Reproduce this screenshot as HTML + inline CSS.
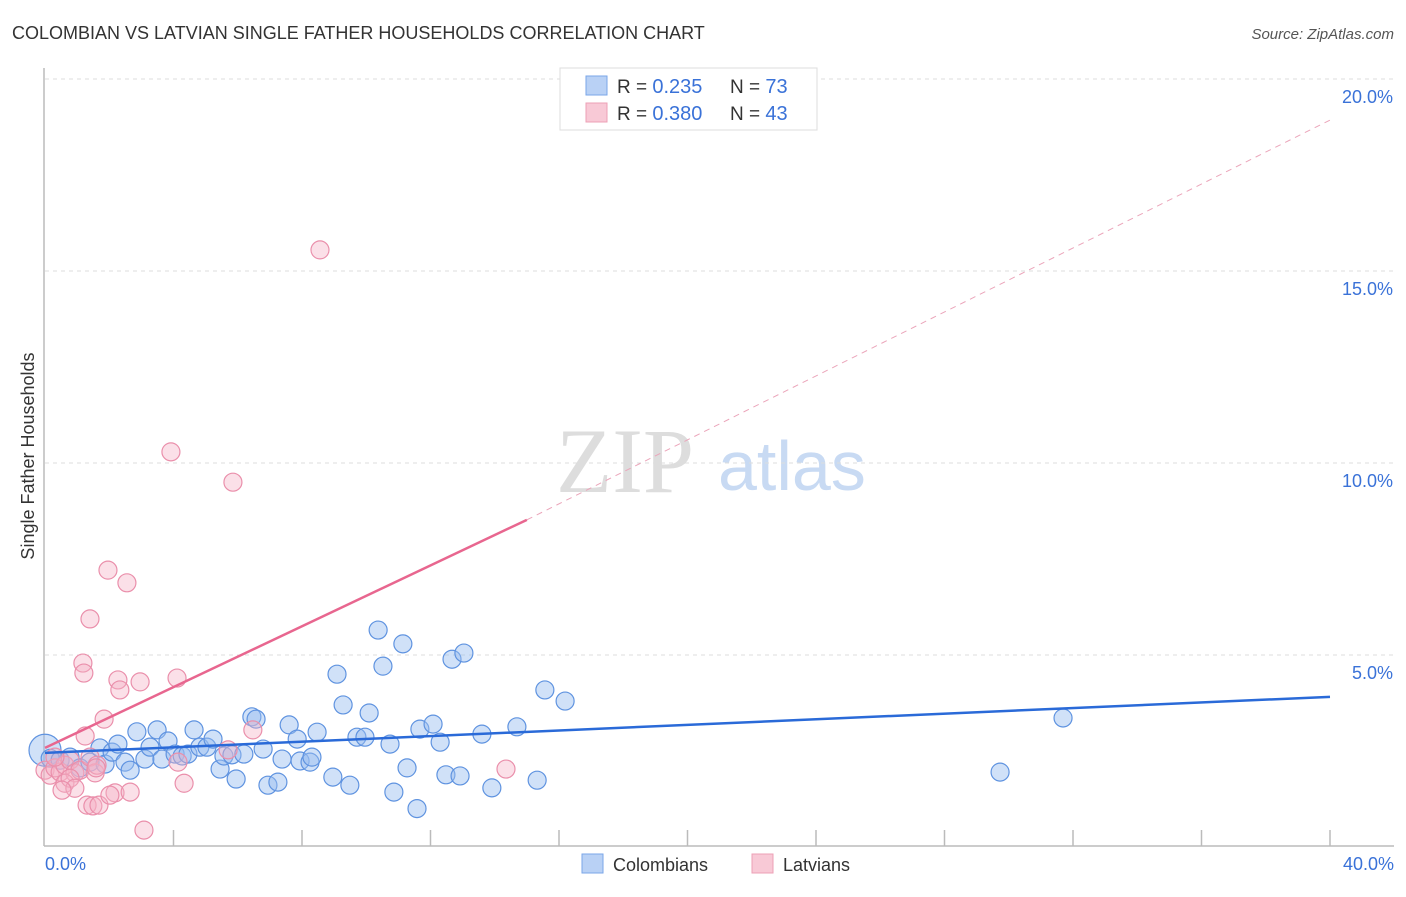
<!DOCTYPE html>
<html><head><meta charset="utf-8"><style>
body{margin:0;background:#fff;font-family:"Liberation Sans",sans-serif;}
#wrap{position:relative;width:1406px;height:892px;}
</style></head><body>
<div id="wrap">
<svg id="svg" width="1406" height="892" xmlns="http://www.w3.org/2000/svg">
<text x="12" y="39" font-size="18" fill="#333">COLOMBIAN VS LATVIAN SINGLE FATHER HOUSEHOLDS CORRELATION CHART</text>
<text x="1394" y="39" font-size="15" fill="#555" font-style="italic" text-anchor="end">Source: ZipAtlas.com</text>
<text x="556" y="492" font-size="92" fill="#ddd" font-family="Liberation Serif,serif">ZIP</text>
<text x="718" y="490" font-size="70" fill="#c8daf3">atlas</text>
<g id="grid"></g>
<line x1="44" y1="68" x2="44" y2="846" stroke="#bbb" stroke-width="1.5"/>
<line x1="44" y1="846" x2="1394" y2="846" stroke="#bbb" stroke-width="1.5"/>
<text transform="translate(34,456) rotate(-90)" font-size="18" fill="#333" text-anchor="middle">Single Father Households</text>
<text x="45" y="870" font-size="18" fill="#3a72d8">0.0%</text>
<text x="1394" y="870" font-size="18" fill="#3a72d8" text-anchor="end">40.0%</text>
<g id="marks"></g>
<g>
<rect x="560" y="68" width="257" height="62" fill="#fff" stroke="#ddd"/>
<rect x="586" y="76" width="21" height="19" fill="#b9d1f5" stroke="#7aa6e8"/>
<rect x="586" y="103" width="21" height="19" fill="#f8c9d6" stroke="#eda0b6"/>
<text x="617" y="93" font-size="19" fill="#333">R = <tspan fill="#3a72d8" font-size="20">0.235</tspan></text>
<text x="730" y="93" font-size="19" fill="#333">N = <tspan fill="#3a72d8" font-size="20">73</tspan></text>
<text x="617" y="120" font-size="19" fill="#333">R = <tspan fill="#3a72d8" font-size="20">0.380</tspan></text>
<text x="730" y="120" font-size="19" fill="#333">N = <tspan fill="#3a72d8" font-size="20">43</tspan></text>
</g>
<g>
<rect x="582" y="854" width="21" height="19" fill="#b9d1f5" stroke="#7aa6e8"/>
<text x="613" y="871" font-size="18" fill="#333">Colombians</text>
<rect x="752" y="854" width="21" height="19" fill="#f8c9d6" stroke="#eda0b6"/>
<text x="783" y="871" font-size="18" fill="#333">Latvians</text>
</g>
</svg>
</div>
<script>
const yTicks=[5,10,15,20];
const xTicks=[4,8,12,16,20,24,28,32,36,40];
const blueX=[0,0.16,0.47,0.78,1.09,1.4,1.71,1.87,2.09,2.27,2.49,2.65,2.86,3.11,3.27,3.49,3.64,3.83,4.05,4.27,4.45,4.64,4.82,5.04,5.23,5.45,5.57,5.82,5.95,6.19,6.44,6.57,6.79,6.94,7.25,7.38,7.6,7.85,7.94,8.25,8.31,8.47,8.96,9.09,9.28,9.49,9.71,9.96,10.09,10.52,10.37,10.74,10.86,11.14,11.27,11.58,11.67,12.08,12.3,12.48,12.67,12.92,13.04,13.6,13.91,14.69,15.32,15.56,16.19,29.73,31.69];
const blueY=[2.52,2.31,2.26,2.34,2.06,2.21,2.58,2.16,2.47,2.68,2.21,2.0,3.0,2.29,2.6,3.05,2.29,2.76,2.42,2.37,2.42,3.05,2.6,2.6,2.81,2.03,2.37,2.4,1.77,2.42,3.39,3.33,2.55,1.61,1.69,2.29,3.18,2.81,2.24,2.21,2.34,2.99,1.82,4.5,3.7,1.61,2.86,2.86,3.49,4.71,5.65,2.68,1.43,5.29,2.06,1.0,3.07,3.2,2.73,1.88,4.89,1.85,5.05,2.94,1.54,3.13,1.74,4.09,3.8,1.95,3.36];
const pinkX=[0,0.16,0.31,0.47,0.62,0.78,0.93,1.09,0.62,0.78,0.93,1.25,1.4,1.56,1.62,1.84,1.96,2.18,2.27,2.33,2.55,2.65,2.96,3.08,3.92,4.11,4.14,4.33,5.85,6.47,5.7,8.56,14.35,1.18,1.21,1.4,1.31,1.49,1.68,2.02,1.59,0.31,0.53];
const pinkY=[2.0,1.87,2.06,1.95,2.13,2.26,1.93,2.0,1.66,1.79,1.53,2.89,2.34,1.93,2.13,3.33,7.21,1.41,4.35,4.09,6.88,1.43,4.3,0.44,10.29,4.4,2.21,1.66,9.5,3.05,2.53,15.55,2.03,4.79,4.53,5.94,1.09,1.07,1.09,1.35,2.06,2.34,1.48];
const X=v=>45+v*32.125, Y=v=>847-v*38.4;
const NS='http://www.w3.org/2000/svg';
const grid=document.getElementById('grid'), marks=document.getElementById('marks'), svg=document.getElementById('svg');
function mk(tag,attrs,parent){const e=document.createElementNS(NS,tag);for(const k in attrs)e.setAttribute(k,attrs[k]);parent.appendChild(e);return e;}
yTicks.forEach(t=>{
  const l=mk('line',{x1:45,x2:1394,y1:Y(t),y2:Y(t),stroke:'#ddd','stroke-dasharray':'4,4'},grid);
  
  
  const tx=mk('text',{x:1393,y:Y(t)+24,'font-size':18,fill:'#3a72d8','text-anchor':'end'},grid);
  tx.textContent=t.toFixed(1)+'%';
  
  
});
xTicks.forEach(t=>{
  const l=mk('line',{x1:X(t),x2:X(t),y1:830,y2:846,stroke:'#bbb','stroke-width':1.5},grid);
  
  
});
blueX.forEach((x,i)=>{
  const c=mk('circle',{cx:X(x),cy:Y(blueY[i]),r:i===0?16:9,fill:'rgba(150,188,240,0.45)',stroke:'#5f93e0','stroke-width':1.2},marks);
  
  
});
pinkX.forEach((x,i)=>{
  const c=mk('circle',{cx:X(x),cy:Y(pinkY[i]),r:9,fill:'rgba(246,178,198,0.4)',stroke:'#ea8fab','stroke-width':1.2},marks);
  
  
});
let l=mk('line',{x1:X(0),y1:Y(2.45),x2:X(40),y2:Y(3.91),stroke:'#2a6ad8','stroke-width':2.5},marks);


l=mk('line',{x1:X(0),y1:Y(2.58),x2:X(15),y2:Y(8.52),stroke:'#e8668f','stroke-width':2.5},marks);


l=mk('line',{x1:X(15),y1:Y(8.52),x2:X(40),y2:Y(18.93),stroke:'#eba5ba','stroke-width':1,'stroke-dasharray':'6,5'},marks);


</script>
</body></html>
